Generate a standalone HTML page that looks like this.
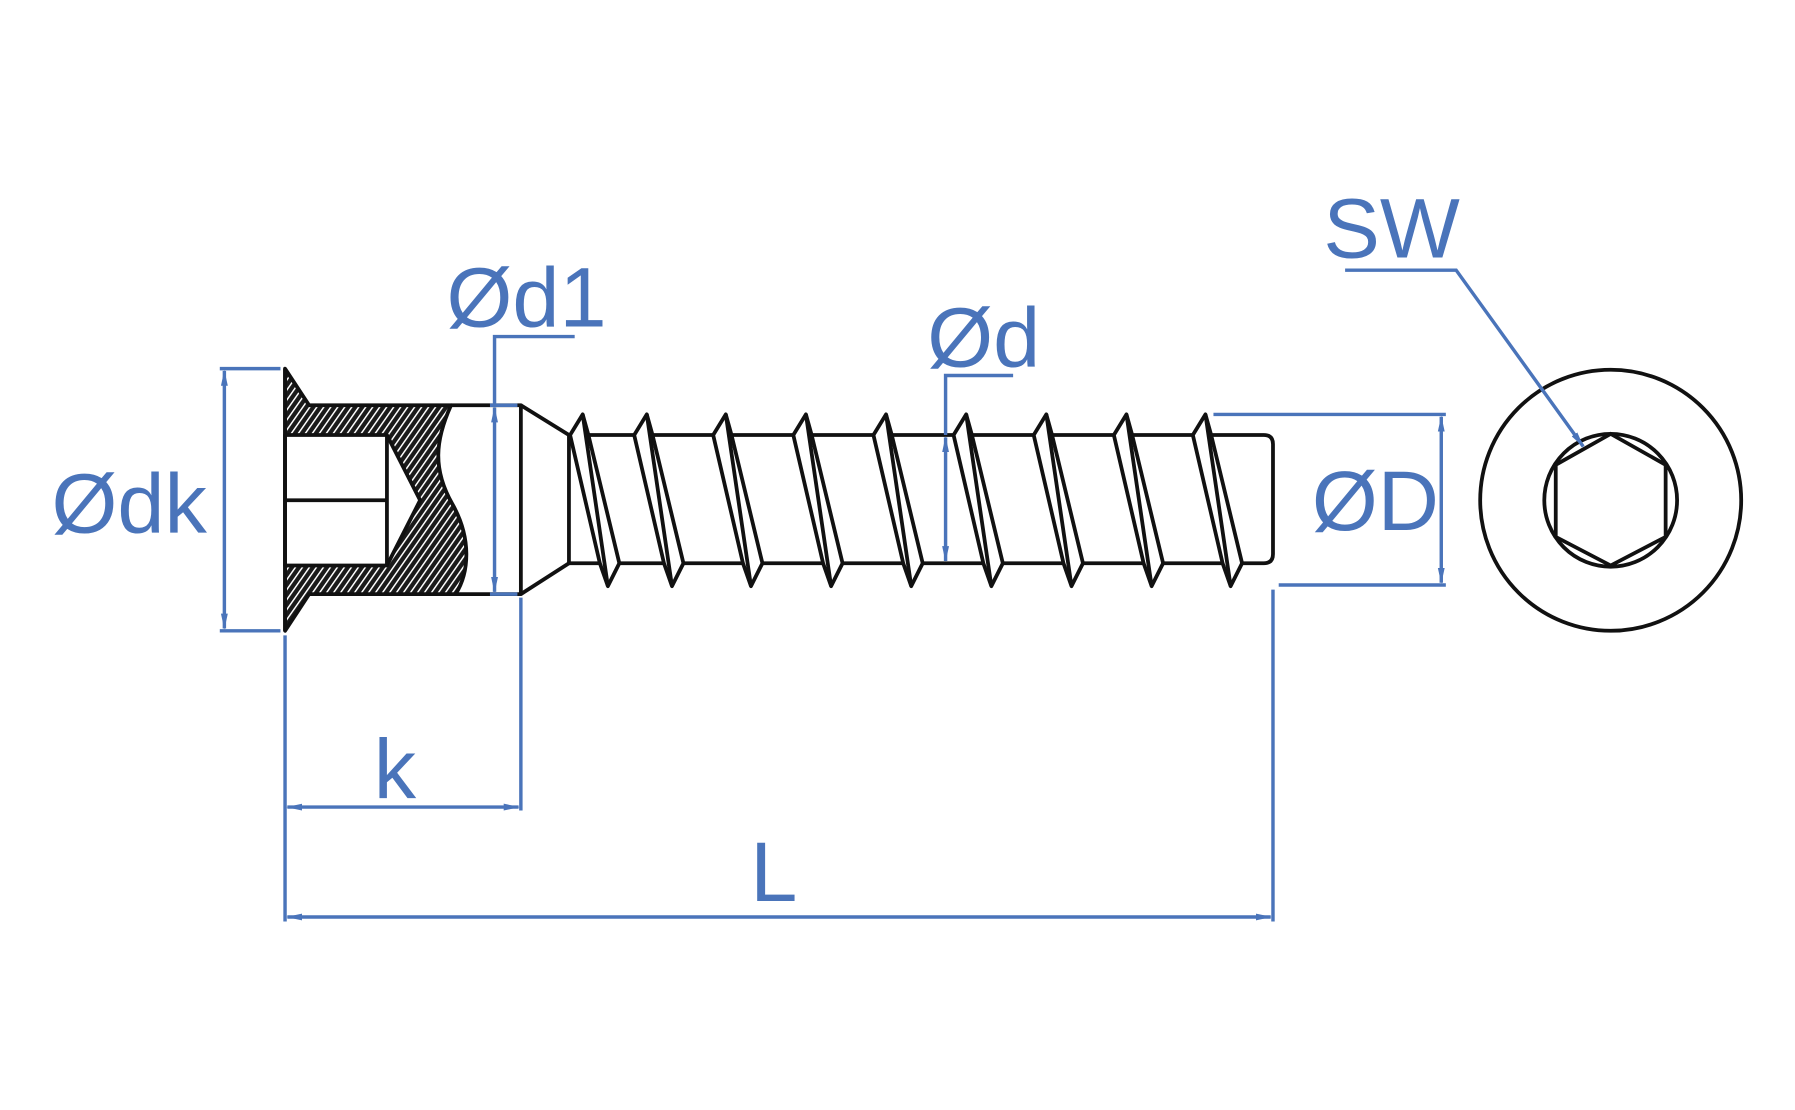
<!DOCTYPE html>
<html><head><meta charset="utf-8"><style>
html,body{margin:0;padding:0;background:#fff;}
svg{display:block;}
text{font-family:"Liberation Sans",sans-serif;fill:#4a74ba;}
</style></head><body>
<svg width="1795" height="1110" viewBox="0 0 1568 969.6" xmlns="http://www.w3.org/2000/svg">
<defs>
<pattern id="h" patternUnits="userSpaceOnUse" width="5" height="5" patternTransform="rotate(35)">
<rect width="5" height="5" fill="#1a1a1a"/>
<rect x="0" y="0" width="1.3" height="5" fill="#fff"/>
</pattern>
<marker id="a" markerWidth="14" markerHeight="8" refX="13" refY="4" orient="auto-start-reverse" markerUnits="userSpaceOnUse">
<path d="M0,1 L14,4 L0,7 Z" fill="#4a74ba"/>
</marker>
<g id="t"><path d="M-11,380 L0,362 L5,380 L32,492 L22,512 L15,492 Z"/><path d="M0,362 L22,512"/></g>
</defs>
<g fill="none" stroke="#111" stroke-width="3.3" stroke-linejoin="round">
<path d="M249,322 L270,354 L394,354 C380,385 378,410 395,440 C412,470 410,500 398,519 L270,519 L249,551 Z" fill="url(#h)"/>
<path d="M249,380 L338,380 L367,437 L338,494 L249,494 Z" fill="#fff"/>
<line x1="249" y1="437" x2="338" y2="437"/>
<line x1="338" y1="380" x2="338" y2="494"/>
<path d="M394,354 L455,354 L455,519 L398,519" />
<line x1="249" y1="322" x2="249" y2="551"/>
<path d="M455,354 L497,380 M455,519 L497,492"/>
<line x1="497" y1="380" x2="497" y2="492"/>
<path d="M497,380 L1104,380 Q1112,380 1112,388 L1112,484 Q1112,492 1104,492 L497,492"/>
</g>
<g fill="#fff" stroke="#111" stroke-width="3.3" stroke-linejoin="round">
<use href="#t" transform="translate(509,0)"/>
<use href="#t" transform="translate(565,0)"/>
<use href="#t" transform="translate(634,0)"/>
<use href="#t" transform="translate(704,0)"/>
<use href="#t" transform="translate(774,0)"/>
<use href="#t" transform="translate(844,0)"/>
<use href="#t" transform="translate(914,0)"/>
<use href="#t" transform="translate(984,0)"/>
<use href="#t" transform="translate(1053,0)"/>
</g>
<g fill="none" stroke="#111" stroke-width="3.3">
<circle cx="1407" cy="437" r="114"/>
<circle cx="1407" cy="437" r="58"/>
<path d="M1407,379 L1455,406 L1455,469 L1407,494 L1359,469 L1359,406 Z"/>
</g>
<g stroke="#4a74ba" stroke-width="3" fill="none">
<line x1="192" y1="322" x2="245" y2="322"/>
<line x1="192" y1="551" x2="245" y2="551"/>
<line x1="196" y1="324" x2="196" y2="549" marker-start="url(#a)" marker-end="url(#a)"/>
<path d="M502,294 L432,294 L432,354"/>
<line x1="432" y1="356" x2="432" y2="517" marker-start="url(#a)" marker-end="url(#a)"/>
<line x1="428" y1="354" x2="452" y2="354"/>
<line x1="428" y1="519" x2="452" y2="519"/>
<path d="M885,328 L826,328 L826,380"/>
<line x1="826" y1="382" x2="826" y2="490" marker-start="url(#a)" marker-end="url(#a)"/>
<line x1="1060" y1="362" x2="1263" y2="362"/>
<line x1="1117" y1="511" x2="1263" y2="511"/>
<line x1="1259" y1="364" x2="1259" y2="509" marker-start="url(#a)" marker-end="url(#a)"/>
<path d="M1175,236 L1272,236 L1383,390" marker-end="url(#a)"/>
<line x1="249" y1="555" x2="249" y2="805"/>
<line x1="455" y1="522" x2="455" y2="708"/>
<line x1="1112" y1="515" x2="1112" y2="805"/>
<line x1="251" y1="705" x2="453" y2="705" marker-start="url(#a)" marker-end="url(#a)"/>
<line x1="251" y1="801" x2="1110" y2="801" marker-start="url(#a)" marker-end="url(#a)"/>
</g>
<text x="45" y="465" font-size="74">Ødk</text>
<text x="390" y="285" font-size="74">Ød1</text>
<text x="810" y="320" font-size="74">Ød</text>
<text x="1146" y="463" font-size="74">ØD</text>
<text x="1156" y="225" font-size="74">SW</text>
<text x="345" y="697" font-size="74" text-anchor="middle">k</text>
<text x="676" y="787" font-size="74" text-anchor="middle">L</text>
</svg>
</body></html>
